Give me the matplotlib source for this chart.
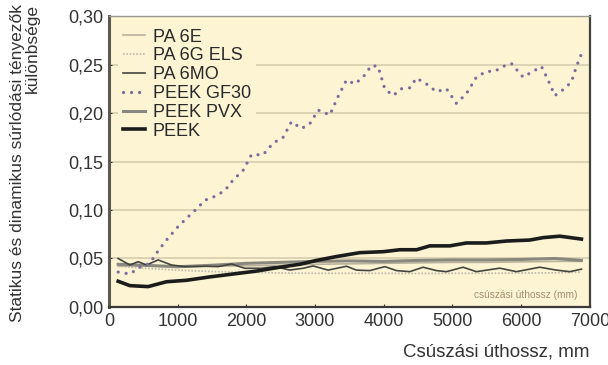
import matplotlib.pyplot as plt

plt.rcParams['font.family'] = ['Liberation Sans', 'DejaVu Sans']

# PEEK GF30 (pontozott lila)
x_gf30 = [136, 306, 451, 597, 718, 839, 1009, 1155, 1276, 1397, 1543, 1688, 1810, 1955,
          2076, 2246, 2392, 2537, 2658, 2804, 2925, 3047, 3216, 3337, 3459, 3580, 3701,
          3822, 3919, 4016, 4138, 4259, 4380, 4477, 4623, 4768, 4914, 5059, 5205, 5350,
          5496, 5617, 5738, 5860, 6030, 6175, 6297, 6394, 6491, 6612, 6733, 6806, 6879]
y_gf30 = [0.036, 0.034, 0.041, 0.045, 0.058, 0.069, 0.083, 0.093, 0.101, 0.110, 0.114,
          0.120, 0.131, 0.141, 0.157, 0.157, 0.169, 0.175, 0.191, 0.184, 0.189, 0.203,
          0.198, 0.217, 0.234, 0.230, 0.237, 0.249, 0.248, 0.225, 0.218, 0.225, 0.226,
          0.236, 0.230, 0.222, 0.225, 0.210, 0.220, 0.237, 0.243, 0.243, 0.248, 0.251,
          0.237, 0.243, 0.248, 0.234, 0.218, 0.224, 0.232, 0.248, 0.261]

# PEEK (vastag fekete)
x_peek = [136, 306, 572, 839, 1130, 1470, 1810, 2149, 2489, 2780, 3022, 3313, 3653, 3993,
          4235, 4478, 4672, 4963, 5205, 5496, 5787, 6127, 6321, 6564, 6879]
y_peek = [0.0265, 0.022, 0.021, 0.026, 0.0275, 0.031, 0.034, 0.037, 0.041, 0.044, 0.048,
          0.052, 0.056, 0.057, 0.059, 0.059, 0.063, 0.063, 0.066, 0.066, 0.068, 0.069,
          0.0715, 0.073, 0.070]

# PA 6MO (vekony sotet, hullamos)
x_6mo = [136, 306, 427, 548, 718, 912, 1106, 1397, 1590, 1786, 1979, 2222, 2416, 2634,
         2828, 2973, 3191, 3459, 3605, 3798, 4017, 4187, 4381, 4574, 4768, 4914, 5156,
         5350, 5690, 5933, 6272, 6515, 6709, 6879]
y_6mo = [0.050, 0.0433, 0.0467, 0.0433, 0.0485, 0.0433, 0.0416, 0.042, 0.0416, 0.0443,
         0.0399, 0.0399, 0.0416, 0.0381, 0.0399, 0.0423, 0.038, 0.042, 0.038, 0.0375,
         0.0416, 0.0375, 0.0364, 0.041, 0.0375, 0.0364, 0.041, 0.0364, 0.040, 0.0364,
         0.041, 0.038, 0.0364, 0.039]

# PEEK PVX, PA 6E, PA 6G ELS
x_low = [136, 500, 1000, 1500, 2000, 2500, 3000, 3500, 4000, 4500, 5000, 5500, 6000, 6500, 6879]
y_pvx = [0.044, 0.043, 0.0415, 0.043, 0.045, 0.046, 0.047, 0.0475, 0.047, 0.048, 0.0485,
         0.0485, 0.049, 0.050, 0.048]
y_6e = [0.042, 0.0425, 0.042, 0.042, 0.0425, 0.043, 0.044, 0.0445, 0.045, 0.0455, 0.046,
        0.046, 0.0465, 0.047, 0.047]
y_6g = [0.042, 0.040, 0.038, 0.0365, 0.0358, 0.035, 0.0347, 0.0347, 0.0347, 0.0345,
        0.0347, 0.0347, 0.035, 0.0352, 0.036]

bg = '#FDF4D4'
fig = plt.figure(figsize=(6.08, 3.65), dpi=100)
ax = fig.add_axes([0.179, 0.159, 0.791, 0.797])
ax.set_facecolor(bg)

for yv in [0.05, 0.10, 0.15, 0.20, 0.25]:
    ax.axhline(yv, color='#D6CDAE', lw=1.2, zorder=1)

ax.plot(x_low, y_6e, color='#B9B29C', lw=1.2, label='PA 6E', zorder=3)
ax.plot(x_low, y_6g, color='#BEB9AA', lw=1.2, ls=(0, (1, 1)), label='PA 6G ELS', zorder=3)
ax.plot(x_6mo, y_6mo, color='#45453F', lw=1.2, label='PA 6MO', zorder=4)
ax.plot(x_gf30, y_gf30, color='#7A6C9C', lw=2.3, ls=(0, (0.01, 2.5)),
        dash_capstyle='round', label='PEEK GF30', zorder=5)
ax.plot(x_low, y_pvx, color='#8A877E', lw=2.2, label='PEEK PVX', zorder=3)
ax.plot(x_peek, y_peek, color='#1C1C1C', lw=2.6, label='PEEK', zorder=6)

ax.set_xlim(0, 7000)
ax.set_ylim(0, 0.30)
ax.set_xticks(range(0, 7001, 1000))
ax.set_yticks([0, 0.05, 0.10, 0.15, 0.20, 0.25, 0.30])
ax.set_yticklabels(['0,00', '0,05', '0,10', '0,15', '0,20', '0,25', '0,30'])
ax.tick_params(axis='both', labelsize=13, colors='#333333', length=2.5, direction='in',
               labelcolor='#333333', pad=4)

for s, c, w in [('left', '#5A5A55', 2.2), ('bottom', '#3A3A36', 1.6),
                ('right', '#44443F', 1.6), ('top', '#9A978C', 1.0)]:
    ax.spines[s].set_color(c)
    ax.spines[s].set_linewidth(w)

leg = ax.legend(loc='upper left', bbox_to_anchor=(0.0, 1.005), fontsize=13,
                frameon=True, facecolor=bg, edgecolor='none', framealpha=1,
                handlelength=1.2, handletextpad=0.45, labelspacing=0.1,
                borderaxespad=0.5, borderpad=0.28)
leg.set_zorder(7)
for t in leg.get_texts():
    t.set_color('#2A2A2A')

ax.text(6820, 0.012, 'csúszási úthossz (mm)', fontsize=7.3, color='#A08E6C',
        ha='right', va='center')

ax.set_xlabel('Csúszási úthossz, mm', fontsize=13.5, color='#333333')
ax.xaxis.set_label_coords(0.805, -0.125)

fig.text(0.041, 0.99, 'Statikus és dinamikus súrlódási tényezők\nkülönbsége',
         rotation=90, ha='center', va='top', multialignment='right',
         fontsize=12.5, color='#333333', linespacing=1.0)

fig.savefig('out.png', dpi=100)
